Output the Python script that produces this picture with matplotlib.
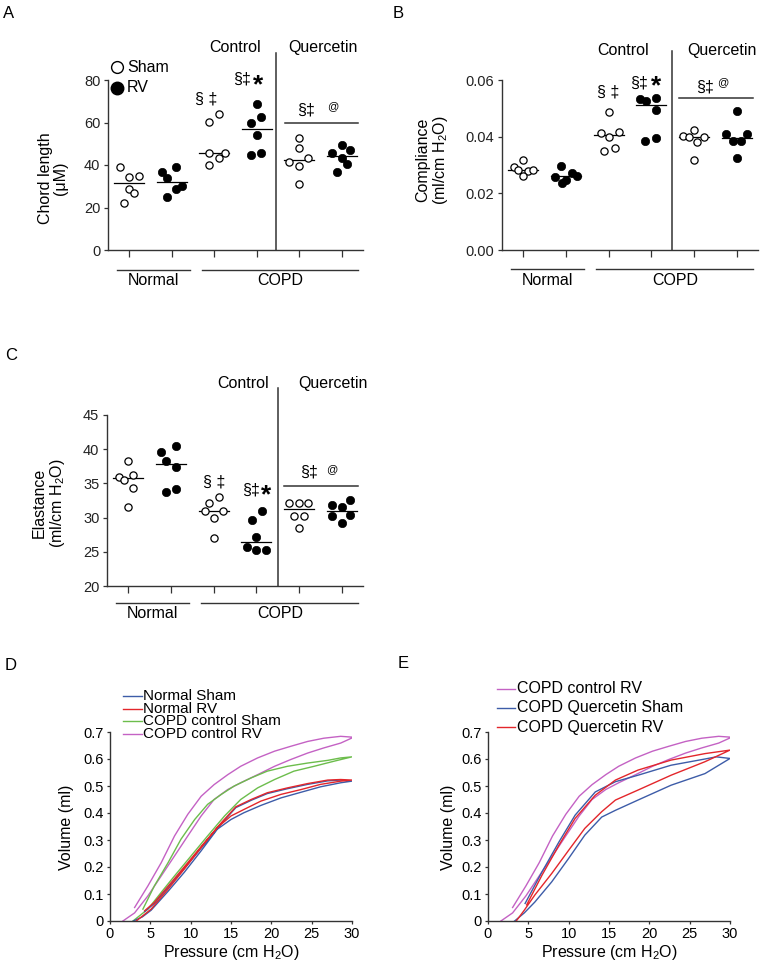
import numpy as np
import matplotlib
matplotlib.use('Agg')
import matplotlib.pyplot as plt

plt.rcParams['font.family'] = ['Liberation Sans', 'DejaVu Sans']
plt.rcParams['mathtext.fontset'] = 'custom'
plt.rcParams['mathtext.rm'] = 'Liberation Sans'
plt.rcParams['mathtext.it'] = 'Liberation Sans:italic'
plt.rcParams['mathtext.bf'] = 'Liberation Sans:bold'

W, H = 765, 967

# --- données des nuages de points (6 souris par groupe) ---
groupes = ['Normal Sham', 'Normal RV', 'COPD control Sham', 'COPD control RV',
           'COPD Quercetin Sham', 'COPD Quercetin RV']

chord = [[38.9, 34.2, 34.8, 28.7, 26.7, 22.3],
         [36.9, 38.9, 33.7, 30.3, 28.6, 25.1],
         [60.1, 63.9, 45.5, 45.5, 43.1, 40.0],
         [68.7, 62.4, 59.9, 54.1, 44.7, 45.5],
         [52.9, 47.8, 43.5, 41.6, 39.5, 31.1],
         [49.4, 45.8, 47.1, 43.1, 40.5, 36.9]]
chord_dx = [[-0.21, 0, 0.22, 0, 0.12, -0.12],
            [-0.24, 0.11, -0.12, 0.23, 0.11, -0.12],
            [-0.12, 0.12, -0.12, 0.26, 0.12, -0.12],
            [0, 0.11, -0.13, 0, -0.13, 0.11],
            [0, 0, 0.21, -0.23, 0, 0],
            [0, -0.22, 0.2, 0, 0.12, -0.11]]

compliance = [[0.0294, 0.0318, 0.0282, 0.0280, 0.0282, 0.0261],
              [0.0298, 0.0259, 0.0271, 0.0262, 0.0247, 0.0235],
              [0.0486, 0.0414, 0.0400, 0.0418, 0.0350, 0.0361],
              [0.0533, 0.0526, 0.0535, 0.0494, 0.0386, 0.0394],
              [0.0403, 0.0424, 0.0400, 0.0400, 0.0380, 0.0318],
              [0.0491, 0.0408, 0.0408, 0.0386, 0.0386, 0.0326]]
compliance_dx = [[-0.21, 0, -0.12, 0.12, 0.23, 0],
                 [-0.12, -0.26, 0.13, 0.25, 0, -0.1],
                 [0, -0.19, 0, 0.24, -0.11, 0.14],
                 [-0.26, -0.13, 0.11, 0.11, -0.15, 0.11],
                 [-0.25, 0, -0.11, 0.24, 0.08, 0],
                 [0, -0.24, 0.25, -0.09, 0.09, 0]]

elastance = [[38.3, 36.0, 35.5, 36.3, 34.3, 31.5],
             [39.6, 40.5, 38.3, 37.4, 33.8, 34.2],
             [33.0, 32.1, 31.0, 31.0, 29.9, 27.0],
             [31.0, 29.6, 27.1, 25.7, 25.2, 25.2],
             [32.2, 32.2, 32.2, 30.2, 30.2, 28.5],
             [31.9, 31.6, 32.6, 30.2, 30.4, 29.2]]
elastance_dx = [[0, -0.23, -0.11, 0.12, 0.12, 0],
                [-0.24, 0.125, -0.11, 0.125, -0.11, 0.125],
                [0.125, -0.11, -0.21, 0.23, 0, 0],
                [0.125, -0.11, 0, -0.23, 0, 0.23],
                [-0.23, 0, 0.21, -0.12, 0.11, 0],
                [-0.22, 0, 0.2, -0.22, 0.2, 0]]

# --- courbes pression-volume (inflation puis deflation) ---
p_norm_sham_in = [2.9, 4.0, 5.1, 7.2, 9.2, 11.3, 13.3, 15.0, 16.6, 18.7, 21.2, 23.7, 26.1, 28.6, 30.0]
v_norm_sham_in = [0.0, 0.015, 0.04, 0.11, 0.18, 0.26, 0.34, 0.376, 0.401, 0.428, 0.456, 0.477, 0.497, 0.512, 0.518]
p_norm_sham_out = [4.3, 5.5, 7.6, 9.64, 11.7, 13.8, 15.6, 17.5, 19.5, 22.0, 24.5, 27.0, 28.6, 30.0]
v_norm_sham_out = [0.035, 0.065, 0.138, 0.21, 0.285, 0.36, 0.42, 0.447, 0.472, 0.49, 0.506, 0.519, 0.522, 0.518]

p_norm_rv_in = [3.26, 5.1, 7.2, 9.2, 11.3, 13.3, 15.0, 16.6, 18.7, 21.2, 23.7, 26.1, 28.6, 30.0]
v_norm_rv_in = [0.0, 0.044, 0.118, 0.192, 0.272, 0.346, 0.389, 0.413, 0.444, 0.469, 0.487, 0.506, 0.518, 0.522]
p_norm_rv_out = [4.3, 5.5, 7.6, 9.64, 11.7, 13.8, 14.6, 15.6, 17.5, 19.5, 22.0, 24.5, 27.0, 28.6, 30.0]
v_norm_rv_out = [0.038, 0.069, 0.143, 0.216, 0.29, 0.364, 0.39, 0.423, 0.45, 0.475, 0.493, 0.509, 0.522, 0.524, 0.522]

p_copd_sham_in = [2.85, 4.7, 6.35, 8.0, 10.05, 12.1, 14.2, 16.2, 18.3, 20.4, 22.8, 25.3, 27.8, 30.0]
v_copd_sham_in = [0.0, 0.044, 0.106, 0.167, 0.241, 0.315, 0.389, 0.45, 0.493, 0.524, 0.555, 0.573, 0.592, 0.608]
p_copd_sham_out = [4.08, 5.5, 7.2, 8.8, 10.5, 12.1, 13.8, 15.4, 17.5, 19.5, 22.0, 24.5, 27.0, 28.6, 30.0]
v_copd_sham_out = [0.044, 0.13, 0.216, 0.303, 0.376, 0.432, 0.469, 0.50, 0.53, 0.555, 0.573, 0.585, 0.595, 0.604, 0.608]

p_copd_rv_in = [1.6, 3.05, 4.7, 6.35, 8.0, 9.64, 11.3, 12.9, 14.6, 16.2, 18.3, 20.4, 22.4, 24.5, 26.5, 28.6, 30.0]
v_copd_rv_in = [0.0, 0.03, 0.093, 0.167, 0.241, 0.315, 0.389, 0.45, 0.487, 0.512, 0.542, 0.573, 0.598, 0.622, 0.641, 0.659, 0.678]
p_copd_rv_out = [3.05, 4.7, 6.35, 8.0, 9.64, 11.3, 12.9, 14.6, 16.2, 18.3, 20.4, 22.4, 24.5, 26.5, 28.6, 30.0]
v_copd_rv_out = [0.05, 0.13, 0.216, 0.315, 0.395, 0.462, 0.505, 0.542, 0.573, 0.604, 0.629, 0.647, 0.665, 0.677, 0.684, 0.681]

p_quer_sham_in = [3.3, 4.5, 5.8, 7.9, 10.0, 12.0, 14.1, 15.8, 18.6, 22.7, 26.9, 30.0]
v_quer_sham_in = [0.0, 0.03, 0.07, 0.145, 0.232, 0.318, 0.385, 0.41, 0.448, 0.503, 0.546, 0.602]
p_quer_sham_out = [4.6, 6.7, 8.8, 10.8, 13.3, 15.8, 18.6, 22.7, 26.9, 28.3, 30.0]
v_quer_sham_out = [0.065, 0.182, 0.293, 0.392, 0.478, 0.516, 0.54, 0.577, 0.60, 0.608, 0.602]

p_quer_rv_in = [3.5, 4.5, 5.8, 7.9, 10.0, 12.0, 14.1, 15.8, 18.6, 22.7, 26.9, 30.0]
v_quer_rv_in = [0.0, 0.04, 0.096, 0.176, 0.262, 0.343, 0.405, 0.448, 0.485, 0.54, 0.59, 0.633]
p_quer_rv_out = [4.8, 6.7, 8.8, 10.8, 13.3, 15.8, 18.6, 22.7, 26.9, 30.0]
v_quer_rv_out = [0.06, 0.17, 0.281, 0.38, 0.466, 0.522, 0.559, 0.596, 0.62, 0.633]

BLEU, ROUGE, VERT, VIOLET = '#3d5ca8', '#e3262b', '#6cbd4c', '#c462c4'
AXE = '#333333'

fig = plt.figure(figsize=(W / 100, H / 100), dpi=100)


def boite(l, r, t, b):
    # position en pixels -> fraction de figure
    return fig.add_axes([l / W, 1 - b / H, (r - l) / W, (b - t) / H])


def nuage(ax, vals, dx, ylim, yticks, ylabs):
    for i, (v, d) in enumerate(zip(vals, dx)):
        x = i + np.array(d)
        if i % 2 == 0:
            ax.plot(x, v, 'o', ms=5.2, mfc='white', mec='black', mew=0.9, ls='none', zorder=3)
        else:
            ax.plot(x, v, 'o', ms=6, mfc='black', mec='black', mew=0.5, ls='none', zorder=3)
        m = np.median(v)
        ax.plot([i - 0.35, i + 0.35], [m, m], color='black', lw=0.9, zorder=2)
    ax.set_xlim(-0.5, 5.5)
    ax.set_ylim(*ylim)
    ax.set_xticks(range(6))
    ax.set_xticklabels([])
    ax.set_yticks(yticks)
    ax.set_yticklabels(ylabs, fontsize=10.5, color='#222222')
    ax.tick_params(axis='x', length=5, width=0.9, color=AXE)
    ax.tick_params(axis='y', length=3, width=0.9, pad=2.5, color=AXE)
    for s in ['top', 'right']:
        ax.spines[s].set_visible(False)
    for s in ['left', 'bottom']:
        ax.spines[s].set_linewidth(1.0)
        ax.spines[s].set_color(AXE)


def decor(ax, xdiv, ydiv, yctrl, xctrl, xquer, yline, ytxt, ylab, yl_x, yl_y,
          a1, a2, a3, aline):
    tr = ax.get_xaxis_transform()
    ax.plot([xdiv, xdiv], [0, ydiv], transform=tr, clip_on=False, color=AXE, lw=1.1)
    ax.text(xctrl, yctrl, 'Control', transform=tr, ha='center', va='center', fontsize=11.5)
    ax.text(xquer, yctrl, 'Quercetin', transform=tr, ha='center', va='center', fontsize=11.5)
    ax.plot([-0.28, 1.43], [yline, yline], transform=tr, clip_on=False, color=AXE, lw=1)
    ax.plot([1.71, 5.38], [yline, yline], transform=tr, clip_on=False, color=AXE, lw=1)
    ax.text(0.56, ytxt, 'Normal', transform=tr, ha='center', va='center', fontsize=11.5)
    ax.text(3.55, ytxt, 'COPD', transform=tr, ha='center', va='center', fontsize=11.5)
    ax.text(yl_x, yl_y, ylab, transform=ax.transAxes, rotation=90, ha='center',
            va='center', fontsize=11.5, linespacing=1.05)
    # annotations statistiques
    ax.text(a1[0], a1[1], '§ ‡', ha='center', va='center', fontsize=11.5)
    ax.text(a2[0], a2[1], '§‡', ha='center', va='center', fontsize=11.5)
    ax.text(a2[2], a2[3], '*', ha='center', va='center', fontsize=19, fontweight='bold')
    ax.text(a3[0], a3[1], '§‡', ha='center', va='center', fontsize=11.5)
    ax.text(a3[2], a3[3], '@', ha='center', va='center', fontsize=8)
    ax.plot([3.66, 5.38], [aline, aline], color=AXE, lw=1.1, clip_on=False)


# --- A ---
axA = boite(108, 363, 80, 250)
nuage(axA, chord, chord_dx, (0, 80), [0, 20, 40, 60, 80], ['0', '20', '40', '60', '80'])
decor(axA, 3.45, 1.159, 1.194, 2.49, 4.55, -0.118, -0.182, 'Chord length\n(μM)', -0.215, 0.42,
      (1.82, 71), (2.65, 80.5, 3.02, 77.5), (4.17, 66, 4.78, 67.6), 59.9)
trA = axA.get_xaxis_transform()
axA.plot([-0.28], [1.076], 'o', ms=8.5, mfc='white', mec='black', mew=1, transform=trA, clip_on=False)
axA.plot([-0.28], [0.953], 'o', ms=9, mfc='black', mec='black', transform=trA, clip_on=False)
axA.text(-0.05, 1.076, 'Sham', transform=trA, va='center', fontsize=11.5)
axA.text(-0.05, 0.953, 'RV', transform=trA, va='center', fontsize=11.5)

# --- B ---
axB = boite(502, 758, 80, 250)
nuage(axB, compliance, compliance_dx, (0, 0.06), [0, 0.02, 0.04, 0.06], ['0.00', '0.02', '0.04', '0.06'])
decor(axB, 3.48, 1.17, 1.176, 2.34, 4.65, -0.112, -0.18, 'Compliance\n(ml/cm H$_2$O)', -0.27, 0.53,
      (2.0, 0.0559), (2.72, 0.0588, 3.1, 0.0578), (4.25, 0.0574, 4.67, 0.0594), 0.0535)

# --- C ---
axC = boite(107, 363, 415, 586)
nuage(axC, elastance, elastance_dx, (20, 45), [20, 25, 30, 35, 40, 45], ['20', '25', '30', '35', '40', '45'])
decor(axC, 3.5, 1.158, 1.187, 2.68, 4.79, -0.1, -0.158, 'Elastance\n(ml/cm H$_2$O)', -0.225, 0.485,
      (2.02, 35.25), (2.87, 34.0, 3.23, 33.3), (4.23, 36.7, 4.78, 37.1), 34.66)


# --- D et E : boucles pression-volume ---
def boucle(ax, p_in, v_in, p_out, v_out, c):
    ax.plot(list(p_in) + list(p_out[::-1]), list(v_in) + list(v_out[::-1]), color=c, lw=1.0)


def pv_axes(ax, lab_x):
    ax.set_xlim(0, 30)
    ax.set_ylim(0, 0.7)
    ax.set_xticks([0, 5, 10, 15, 20, 25, 30])
    ax.set_yticks([0, 0.1, 0.2, 0.3, 0.4, 0.5, 0.6, 0.7])
    ax.set_yticklabels(['0', '0.1', '0.2', '0.3', '0.4', '0.5', '0.6', '0.7'])
    ax.tick_params(labelsize=10.5, length=2.5, width=0.9, pad=2, color=AXE)
    for s in ['top', 'right']:
        ax.spines[s].set_visible(False)
    for s in ['left', 'bottom']:
        ax.spines[s].set_linewidth(1.0)
        ax.spines[s].set_color(AXE)
    ax.text(lab_x, 0.497, 'Volume (ml)', transform=ax.transAxes, rotation=90,
            ha='center', va='center', fontsize=11.5)
    ax.text(0.5, -0.165, 'Pressure (cm H$_2$O)', transform=ax.transAxes,
            ha='center', va='center', fontsize=11.5)


def legende(ax, noms, couleurs, ys, x0, x1, xt, fs):
    for n, c, y in zip(noms, couleurs, ys):
        ax.plot([x0, x1], [y, y], color=c, lw=1, transform=ax.transAxes, clip_on=False)
        ax.text(xt, y, n, transform=ax.transAxes, va='center', fontsize=fs)


axD = boite(110, 352, 732, 921)
boucle(axD, p_copd_rv_in, v_copd_rv_in, p_copd_rv_out, v_copd_rv_out, VIOLET)
boucle(axD, p_copd_sham_in, v_copd_sham_in, p_copd_sham_out, v_copd_sham_out, VERT)
boucle(axD, p_norm_sham_in, v_norm_sham_in, p_norm_sham_out, v_norm_sham_out, BLEU)
boucle(axD, p_norm_rv_in, v_norm_rv_in, p_norm_rv_out, v_norm_rv_out, ROUGE)
pv_axes(axD, -0.178)
legende(axD, ['Normal Sham', 'Normal RV', 'COPD control Sham', 'COPD control RV'],
        [BLEU, ROUGE, VERT, VIOLET], [1.19, 1.122, 1.056, 0.989], 0.054, 0.132, 0.136, 11)

axE = boite(488, 730, 732, 921)
boucle(axE, p_copd_rv_in, v_copd_rv_in, p_copd_rv_out, v_copd_rv_out, VIOLET)
boucle(axE, p_quer_sham_in, v_quer_sham_in, p_quer_sham_out, v_quer_sham_out, BLEU)
boucle(axE, p_quer_rv_in, v_quer_rv_in, p_quer_rv_out, v_quer_rv_out, ROUGE)
pv_axes(axE, -0.165)
legende(axE, ['COPD control RV', 'COPD Quercetin Sham', 'COPD Quercetin RV'],
        [VIOLET, BLEU, ROUGE], [1.228, 1.127, 1.026], 0.037, 0.112, 0.12, 11.5)

# lettres des panneaux
for lettre, x, y in [('A', 3, 13), ('B', 393, 13), ('C', 5, 355), ('D', 5, 665), ('E', 398, 663)]:
    fig.text(x / W, 1 - y / H, lettre, ha='left', va='center', fontsize=12)

fig.savefig('out.png', dpi=100)
